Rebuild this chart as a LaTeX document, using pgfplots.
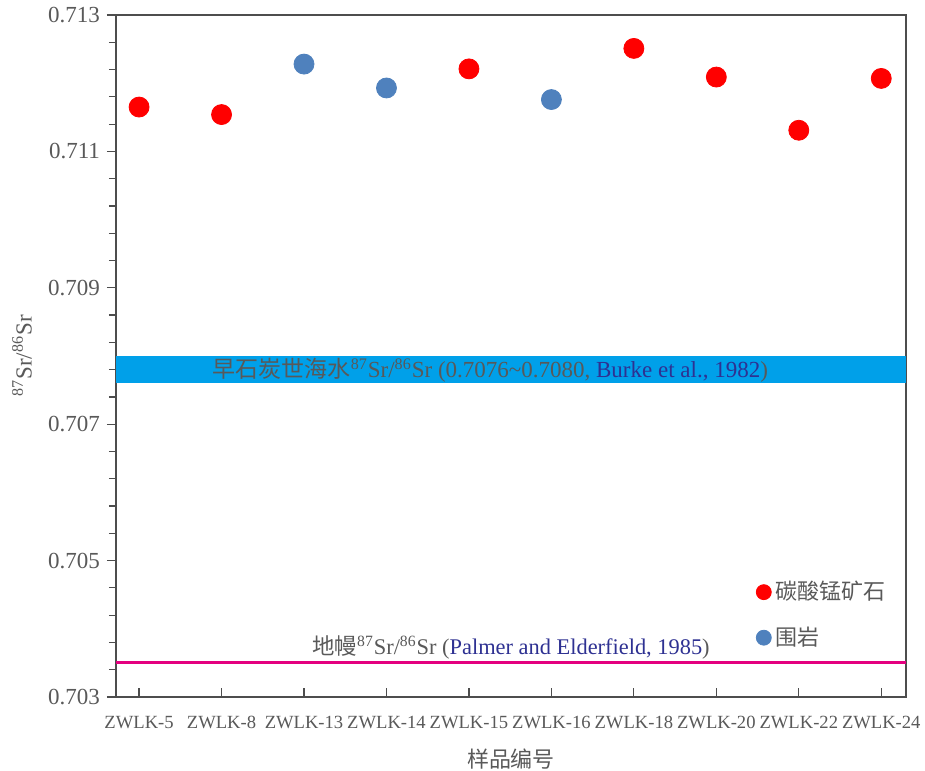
\documentclass[border=0pt]{standalone}
\usepackage{fontspec}
\setmainfont{Liberation Serif}
\newfontfamily\cjk{Noto Sans CJK SC}
\usepackage{pgfplots}
\pgfplotsset{compat=1.18}
\usetikzlibrary{calc}
\definecolor{cRed}{HTML}{FF0000}
\definecolor{cBlue}{HTML}{4F81BD}
\definecolor{cBand}{HTML}{00A0E9}
\definecolor{cMantle}{HTML}{E4007F}
\definecolor{cTxt}{HTML}{595959}
\definecolor{cRef}{HTML}{2E3192}
\definecolor{cAxis}{HTML}{4D4D4D}
\newcommand{\srr}{\textsuperscript{87}Sr/\textsuperscript{86}Sr}
\begin{document}
\begin{tikzpicture}
\begin{axis}[
  name=ax,
  scale only axis, width=395pt, height=341pt,
  xmin=-0.28, xmax=9.3, ymin=0.703, ymax=0.713,
  xtick={0,...,9},
  xticklabels={ZWLK-5,ZWLK-8,ZWLK-13,ZWLK-14,ZWLK-15,ZWLK-16,ZWLK-18,ZWLK-20,ZWLK-22,ZWLK-24},
  ytick={0.703,0.705,0.707,0.709,0.711,0.713},
  minor y tick num=4,
  xtick pos=bottom, ytick pos=left,
  yticklabel style={/pgf/number format/fixed, /pgf/number format/precision=3,
    /pgf/number format/fixed zerofill, /pgf/number format/assume math mode=true,
    font=\fontsize{11.5}{13}\selectfont},
  scaled y ticks=false,
  axis line style={cAxis, line width=0.8pt},
  every tick/.style={cAxis, line width=0.6pt},
  xtick align=inside, ytick align=outside,
  major tick length=4.5pt, minor tick length=3.5pt,
  tick label style={color=cTxt},
  xticklabel style={font=\fontsize{9.3}{10}\selectfont, yshift=-6pt},
  xlabel={\cjk 样品编号},
  xlabel style={font=\fontsize{11}{13}\selectfont, color=cTxt, yshift=-3pt},
  legend style={at={(0.81,0.176)}, anchor=north west, draw=none, fill=none,
    font=\cjk\fontsize{11}{13}\selectfont, text=cTxt, row sep=8pt, inner sep=0pt},
  legend cell align=left,
  legend image post style={mark size=3.75pt},
]
\fill[cBand] (axis cs:-0.28,0.7076) rectangle (axis cs:9.3,0.7080);
\draw[cMantle, line width=1.5pt] (axis cs:-0.28,0.70350) -- (axis cs:9.3,0.70350);
\addplot[only marks, mark=*, mark size=5pt, color=cRed, mark options={draw=none, fill=cRed}]
  coordinates {(0,0.71165)(1,0.71154)(4,0.71221)(6,0.71251)(7,0.71209)(8,0.71131)(9,0.71207)};
\addlegendentry{碳酸锰矿石}
\addplot[only marks, mark=*, mark size=5pt, color=cBlue, mark options={draw=none, fill=cBlue}]
  coordinates {(2,0.71228)(3,0.71193)(5,0.71176)};
\addlegendentry{围岩}
\node[anchor=base, font=\fontsize{11.5}{13}\selectfont, text=cTxt, inner sep=0pt]
  at (axis cs:4.26,0.707681) {{\cjk 早石炭世海水}\srr{} (0.7076\textasciitilde0.7080, \textcolor{cRef}{Burke et al., 1982})};
\node[anchor=base, font=\fontsize{11.2}{13}\selectfont, text=cTxt, inner sep=0pt]
  at (axis cs:4.51,0.703618) {{\cjk 地幔}\srr{} (\textcolor{cRef}{Palmer and Elderfield, 1985})};
\end{axis}
\node[rotate=90, font=\fontsize{11.5}{13}\selectfont, text=cTxt]
  at ($(ax.west)+(-47pt,0)$) {\srr};
\pgfresetboundingbox
\useasboundingbox ($(ax.south west)+(-58pt,-37pt)$) rectangle ($(ax.north east)+(9.5pt,7.5pt)$);
\end{tikzpicture}
\end{document}
